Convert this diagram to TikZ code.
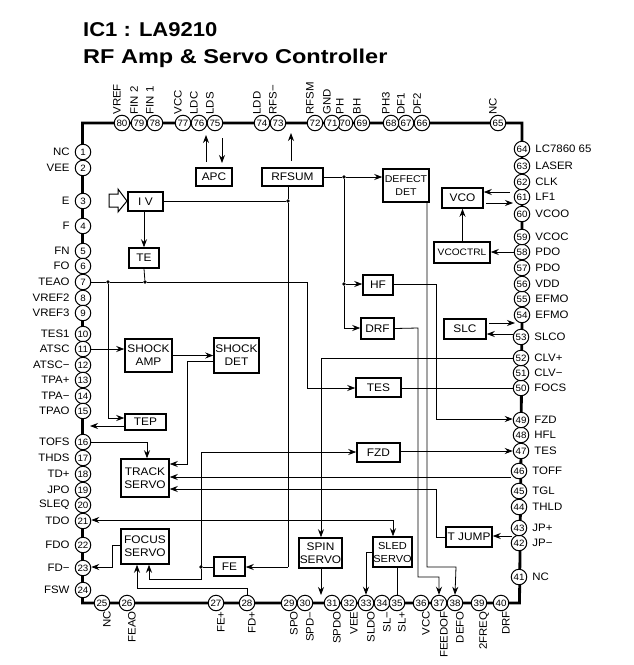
\documentclass[tikz,border=0pt]{standalone}
\usepackage{fontspec}
\setmainfont{Liberation Sans}
\newfontfamily\padfont[FakeStretch=1.06]{Liberation Sans}
\newfontfamily\blockfont[FakeStretch=1.08]{Liberation Sans}
\newfontfamily\titlefont[FakeStretch=1.1]{Liberation Sans Bold}
\newfontfamily\titlewide[FakeStretch=1.175]{Liberation Sans Bold}
\usetikzlibrary{arrows.meta}
\tikzset{
  pad/.style={circle,draw,fill=white,line width=1pt,inner sep=0pt,minimum size=15.5pt,font=\padfont\fontsize{9.2}{10}\selectfont},
  padtext/.style={inner sep=0pt,font=\padfont\fontsize{10.8}{12}\selectfont},
  leftlab/.style={padtext,anchor=east},
  rightlab/.style={padtext,anchor=west},
  toplab/.style={padtext,rotate=90,anchor=west},
  botlab/.style={padtext,rotate=90,anchor=east},
  blockbox/.style={draw,fill=white,line width=1.5pt,inner sep=0pt,align=center,font=\blockfont\fontsize{11}{13}\selectfont},
  jdot/.style={circle,fill=black,inner sep=0pt,minimum size=3.8pt},
  wire/.style={line width=0.8pt},
  outline/.style={line width=2.8pt}
}
\begin{document}
\begin{tikzpicture}[x=1pt,y=-1pt,>={Stealth[length=8pt,width=6pt]},label distance=5pt]
\useasboundingbox (0,0) rectangle (633,665);
\node[anchor=base west,inner sep=0pt,font=\titlefont\fontsize{20}{22}\selectfont] (title1) at (83,36) {IC1 : LA9210};
\node[anchor=base west,inner sep=0pt,font=\titlewide\fontsize{20}{22}\selectfont] (title2) at (83,63) {RF Amp \& Servo Controller};
\draw[outline,line join=miter] (82.5,123) -- (522,123) -- (522,315) -- (521,450) -- (519.5,603) -- (82.5,603) -- cycle;
\foreach \n/\y/\lab in {1/152/NC,2/168/VEE,3/201/E,4/226/F,5/251/FN,6/266/FO,7/282/TEAO,8/298/VREF2,9/313/VREF3,
  10/334/TES1,11/349/ATSC,12/365/ATSC\textminus,13/380/TPA+,14/396/TPA\textminus,15/411/TPAO,16/442/TOFS,17/458/THDS,
  18/474/TD+,19/490/JPO,20/505/SLEQ,21/521/TDO,22/545/FDO,23/568/FD\textminus,24/590/FSW}
  \node[pad,label={[leftlab]left:\lab}] (p\n) at (83,\y) {\n};
\foreach \n/\x/\lab in {25/102/NC,26/127/FEAO,27/216/FE+,28/247/FD+,29/289/SPO,30/305/SPD\textminus,31/332/SPDO,32/349/VEE,
  33/366/SLDO,34/382/SL\textminus,35/397/SL+,36/421/VCC,37/439/FEEDOF,38/455/DEFO,39/479/2FREQ,40/501/DRF}
  \node[pad,label={[botlab]below:\lab}] (p\n) at (\x,603) {\n};
\foreach \n/\x/\y/\lab in {41/519/577/NC,42/519/543/JP\textminus,43/519/528/JP+,44/519/507/THLD,45/519/491/TGL,46/519/471/TOFF,
  47/521/451/TES,48/521/435/HFL,49/521/420/FZD,50/521/388/FOCS,51/521/373/CLV\textminus,52/521/358/CLV+,53/521/337/SLCO,
  54/522/315/EFMO,55/522/299/EFMO,56/522/284/VDD,57/522/268/PDO,58/522/252/PDO,59/522/237/VCOC,60/522/214/VCOO,
  61/522/197/LF1,62/522/182/CLK,63/522/166/LASER,64/522/149/LC7860 65}
  \node[pad,label={[rightlab]right:\lab}] (p\n) at (\x,\y) {\n};
\foreach \n/\x/\lab in {65/498/NC,66/422/DF2,67/406/DF1,68/391/PH3,69/362/BH,70/345/PH,71/332/GND,72/315/RFSM,73/278/RFS\textminus,
  74/262/LDD,75/215/LDS,76/199/LDC,77/183/VCC,78/155/FIN 1,79/139/FIN 2,80/122/VREF}
  \node[pad,label={[toplab]above:\lab}] (p\n) at (\x,123) {\n};
\node[blockbox,minimum width=36,minimum height=18] (apc) at (214,177) {APC};
\node[blockbox,minimum width=61,minimum height=18] (rfsum) at (292.5,177) {RFSUM};
\node[blockbox,minimum width=35,minimum height=19] (iv) at (145.5,201.5) {I V};
\draw[line width=1pt,fill=white] (109,194) -- (118,194) -- (118,189) -- (127,201) -- (118,212) -- (118,207) -- (109,207) -- cycle;
\node[blockbox,minimum width=30,minimum height=20] (te) at (144,258) {TE};
\node[blockbox,minimum width=47,minimum height=33] (shockamp) at (148.5,355.5) {SHOCK\\AMP};
\node[blockbox,minimum width=45,minimum height=35] (shockdet) at (236.5,355.5) {SHOCK\\DET};
\node[blockbox,minimum width=41,minimum height=16] (tep) at (145.5,422) {TEP};
\node[blockbox,minimum width=48,minimum height=38] (track) at (145,478) {TRACK\\SERVO};
\node[blockbox,minimum width=48,minimum height=35] (focus) at (145,546.5) {FOCUS\\SERVO};
\node[blockbox,minimum width=31,minimum height=19] (fe) at (229.5,566.5) {FE};
\node[blockbox,minimum width=43,minimum height=30] (spin) at (320.5,553) {SPIN\\SERVO};
\node[blockbox,minimum width=39,minimum height=30,font=\blockfont\fontsize{10.2}{13}\selectfont] (sled) at (392.5,552) {SLED\\SERVO};
\node[blockbox,minimum width=46,minimum height=20] (tjump) at (469,537) {T JUMP};
\node[blockbox,minimum width=43,minimum height=19] (fzd) at (378.5,452.5) {FZD};
\node[blockbox,minimum width=45,minimum height=19] (tes) at (378.5,387.5) {TES};
\node[blockbox,minimum width=30,minimum height=20] (hf) at (378,285) {HF};
\node[blockbox,minimum width=33,minimum height=21] (drf) at (377.5,328.5) {DRF};
\node[blockbox,minimum width=42,minimum height=20] (slc) at (465,329) {SLC};
\node[blockbox,minimum width=46,minimum height=33,font=\blockfont\fontsize{9.8}{12.5}\selectfont] (defect) at (406,185.5) {DEFECT\\DET};
\node[blockbox,minimum width=41,minimum height=20] (vco) at (462.5,198) {VCO};
\node[blockbox,minimum width=56,minimum height=21,font=\blockfont\fontsize{9.4}{11}\selectfont] (vcoctrl) at (462,252.5) {VCOCTRL};
\node[jdot] (jiv) at (288,201) {};
\node[jdot] (jte) at (145,282) {};
\node[jdot] (jtep) at (108,282) {};
\node[jdot] (jdef) at (344,177) {};
\node[jdot] (jhf) at (344,284) {};
\node[jdot] (jfe) at (201,567) {};
\coordinate (ldcfrom) at (206,162);
\coordinate (ldcto) at (206,135);
\coordinate (ldsfrom) at (222,138);
\coordinate (ldsto) at (222,163);
\coordinate (rfsfrom) at (291,161);
\coordinate (rfsto) at (291,133);
\coordinate (vcofrom) at (510,192);
\coordinate (vcoout) at (486,203);
\coordinate (vcoto) at (513,203);
\coordinate (slcout) at (489,323);
\coordinate (slcto) at (515,323);
\coordinate (slcfrom) at (513,334);
\coordinate (jumpfrom) at (512,536);
\coordinate (tepto) at (90,426);
\begin{scope}[wire]
\draw[->] (ldcfrom) -- (ldcto);
\draw[->] (ldsfrom) -- (ldsto);
\draw[->] (rfsfrom) -- (rfsto);
\draw (288,0 |- rfsum.south) -- (jiv);
\draw (iv.east |- jiv) -- (jiv) -- (288,567) coordinate (fecorner);
\draw[->] (fecorner) -- (fe.east |- fecorner);
\draw[->] (iv.south -| te) -- (te.north);
\draw (p7.east) -- (jtep) -- (jte) -- (307,282) -- (307,388) coordinate (tescorner);
\draw[->] (tescorner) -- (tes.west |- tescorner);
\draw (te.south) -- (jte);
\draw (jtep) -- (108,418) coordinate (tepcorner);
\draw[->] (tepcorner) -- (tep.west |- tepcorner);
\draw[->] (tep.west |- tepto) -- (tepto);
\draw[->] (p11.east) -- (shockamp.west |- p11.east);
\draw[->] (shockamp.east) -- (shockdet.west |- shockamp.east);
\draw[->] (shockdet.west |- 0,361) -- (187,361) -- (187,464) -- (track.east |- 0,464);
\draw[->] (p16.east) -- (147,442) -- (track.north -| 147,0);
\draw[->] (201,567 |- jfe) -- (201,452) -- (fzd.west |- 201,452);
\draw (fe.west |- jfe) -- (jfe);
\draw[->] (jfe) -- (201,579) -- (149,579) -- (focus.south -| 149,0);
\draw[->] (p28.north) -- (247,588) -- (137,588) -- (focus.south -| 137,0);
\draw[->] (focus.west |- 0,545) -- (112,545) -- (112,567) -- (p23.east |- 0,567);
\draw[->] (p46.west |- 0,477) -- (track.east |- 0,477);
\draw[->] (tjump.west) -- (436,537) -- (436,489) -- (track.east |- 0,489);
\draw[->] (393,520) -- (p21.east |- 0,520);
\draw[->] (393,520) -- (sled.north -| 393,0);
\draw[->] (p52.west) -- (321,358) -- (spin.north -| 321,0);
\draw[->] (spin.south -| 321,0) -- (321,595);
\draw[->] (sled.west |- 0,552) -- (366,552) -- (p33.north);
\draw (sled.south -| 397,0) -- (p35.north);
\draw[->] (rfsum.east) -- (jdef) -- (defect.west |- jdef);
\draw[->] (jdef) -- (jhf) -- (hf.west |- jhf);
\draw[->] (jhf) -- (344,328) -- (drf.west |- 344,328);
\draw[->] (427,0 |- defect.south) -- (427,567) -- (456,567) -- (p38.north);
\draw[->] (drf.east) -- (418,328) -- (418,577) -- (439,577) -- (p37.north);
\draw[->] (hf.east |- jhf) -- (436,284) -- (436,419) -- (p49.west |- 436,419);
\draw (tes.east |- p50.west) -- (p50.west);
\draw[->] (fzd.east |- p47.west) -- (p47.west);
\draw[->] (slcout) -- (slcto);
\draw[->] (slcfrom) -- (slc.east |- slcfrom);
\draw[->] (vcofrom) -- (vco.east |- vcofrom);
\draw[->] (vcoout) -- (vcoto);
\draw[->] (p58.west) -- (vcoctrl.east |- p58.west);
\draw[->] (vcoctrl.north -| vco) -- (vco.south);
\draw[->] (jumpfrom) -- (tjump.east |- jumpfrom);
\end{scope}
\end{tikzpicture}
\end{document}
